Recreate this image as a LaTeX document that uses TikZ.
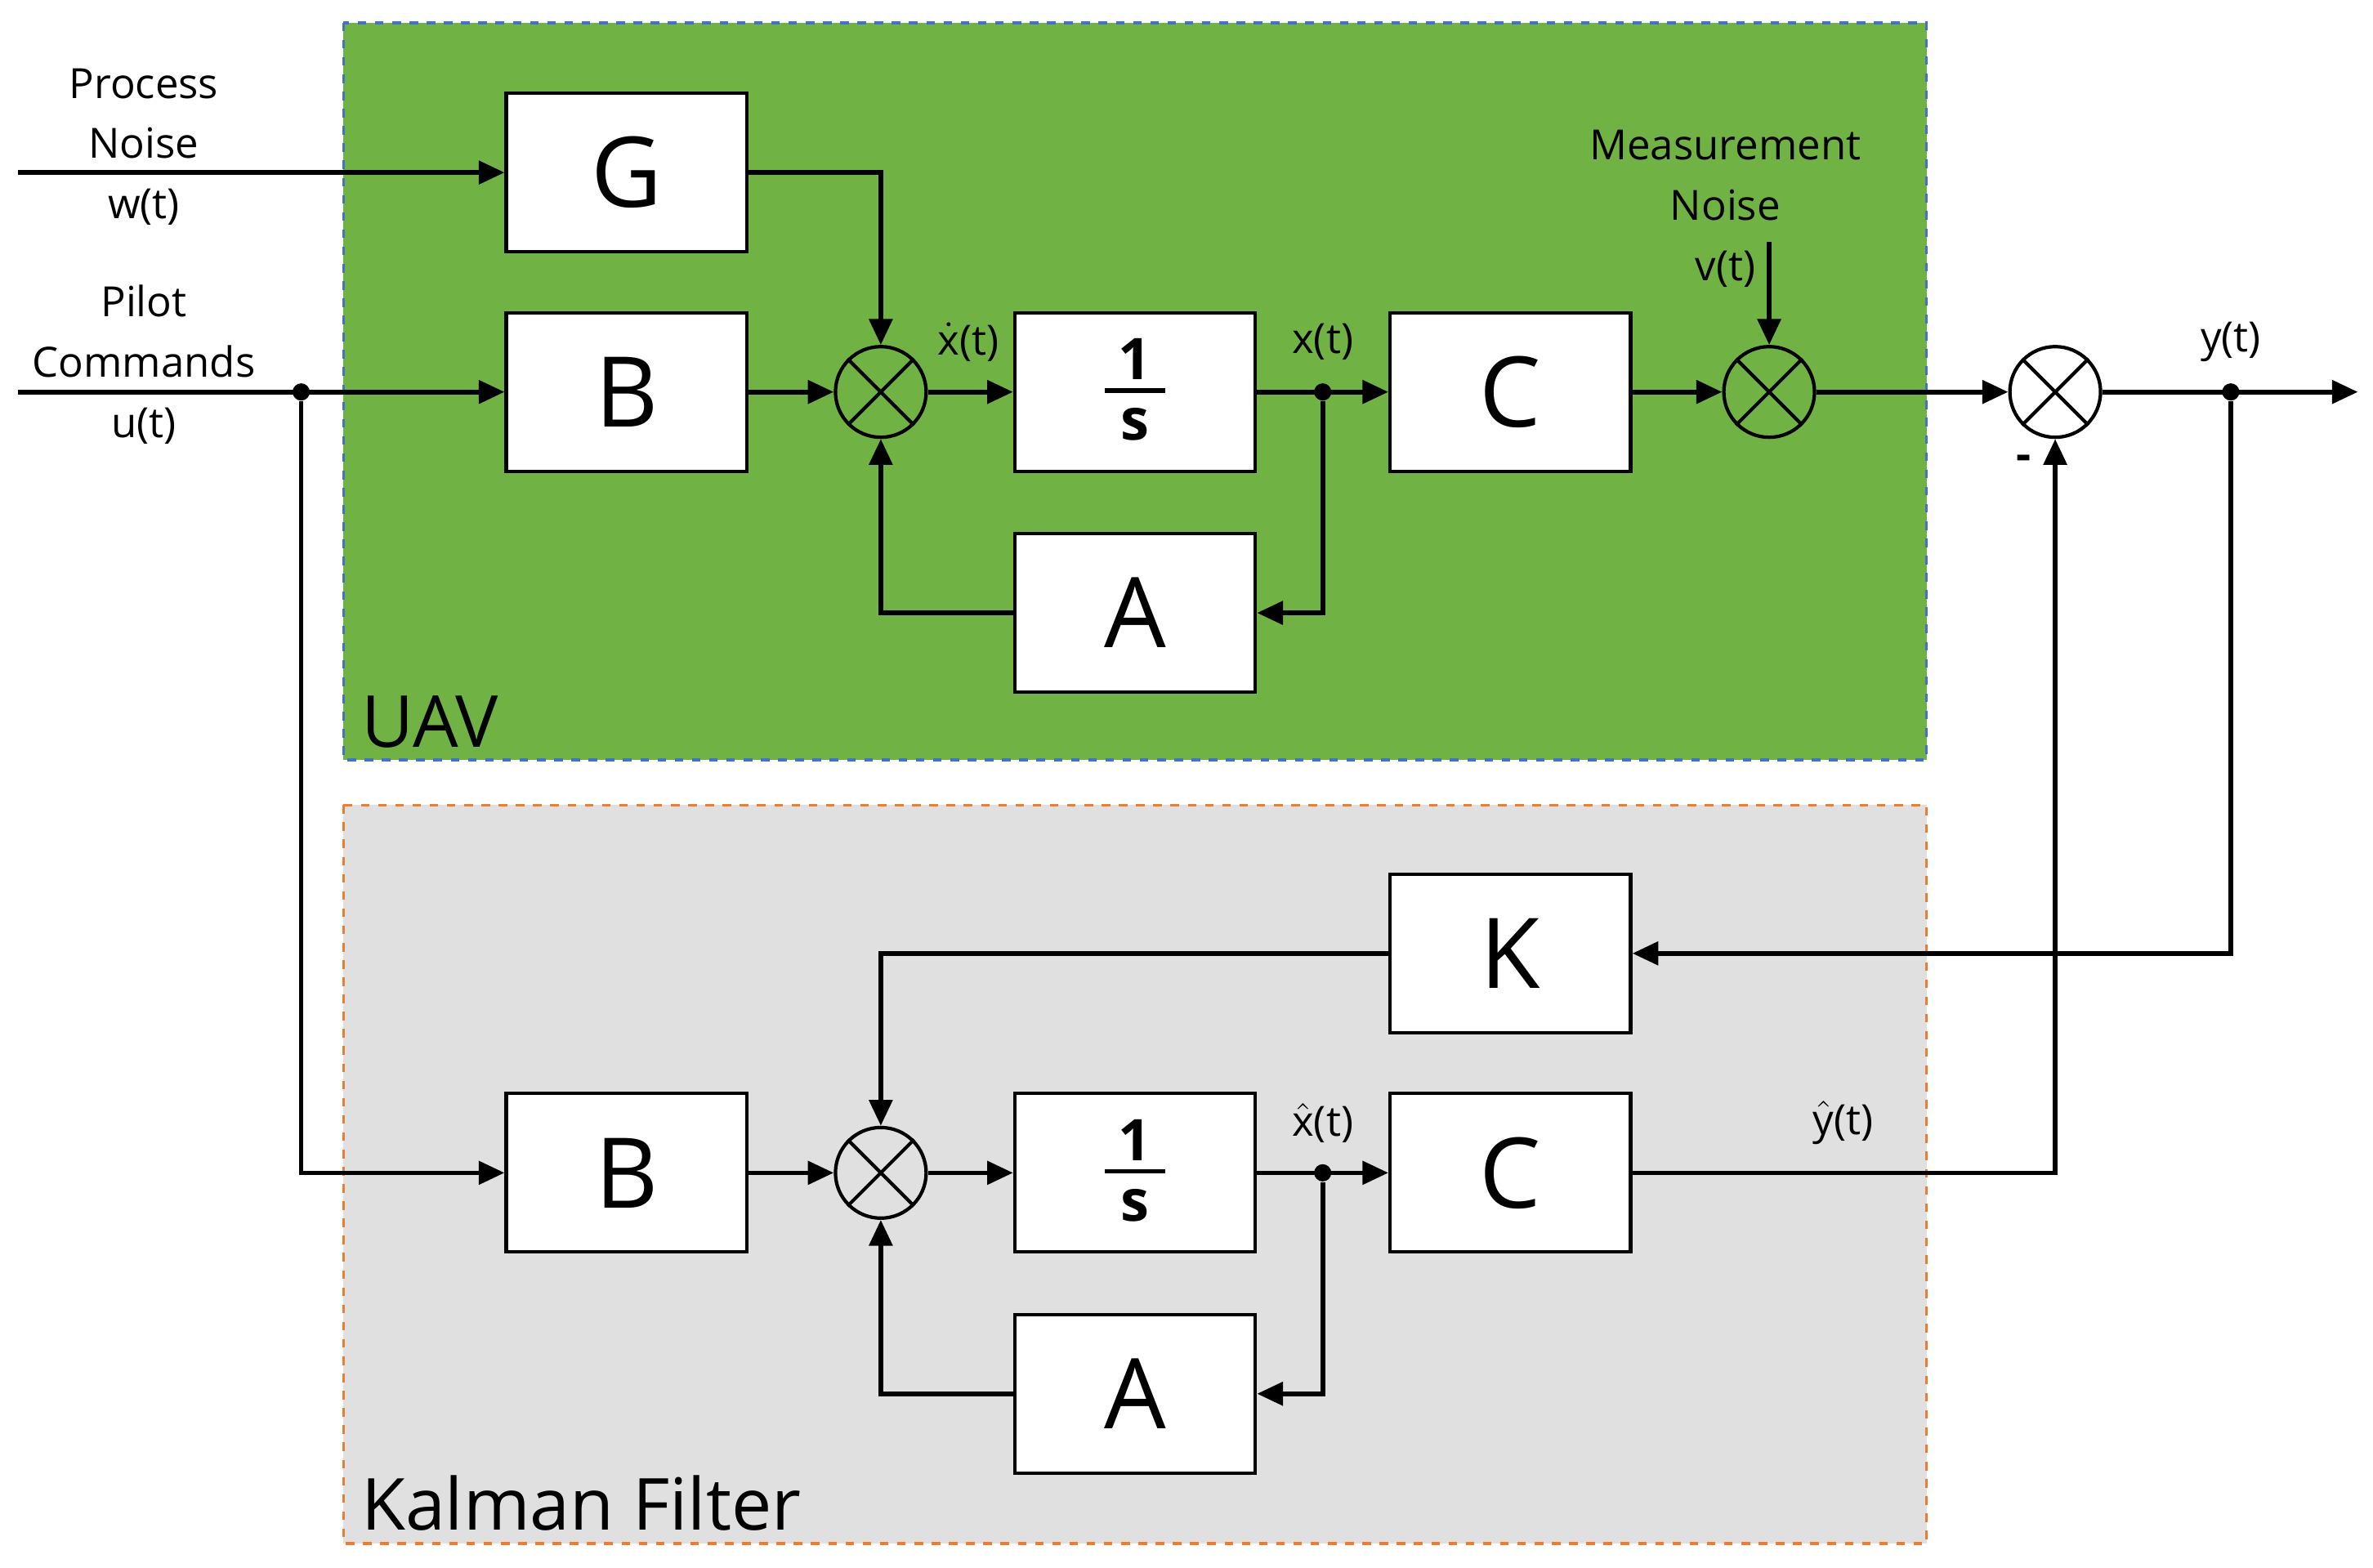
\documentclass[tikz,border=0pt]{standalone}
\usepackage{fontspec}
\setmainfont{Open Sans}
\usetikzlibrary{arrows.meta}
\definecolor{uavgreen}{HTML}{70B344}
\definecolor{kfgray}{HTML}{E0E0E0}
\definecolor{bblue}{HTML}{4472C4}
\definecolor{borange}{HTML}{ED7D31}
\begin{document}
\begin{tikzpicture}[x=0.01852cm,y=-0.01852cm,
  blk/.style={draw,fill=white,line width=1.2pt,minimum width=2.945cm,minimum height=1.94cm,inner sep=0pt,font=\fontsize{34}{36}\selectfont},
  sumn/.style={draw,circle,fill=uavgreen,line width=1.2pt,minimum size=1.11cm,inner sep=0pt},
  wire/.style={line width=1.6pt},
  arr/.style={wire,-{Triangle[length=9pt,width=8pt]}},
  dot/.style={circle,fill=black,inner sep=0pt,minimum size=6pt},
  lbl/.style={font=\fontsize{14.5}{17}\selectfont,align=center},
  frac/.style={font=\bfseries\fontsize{20}{22}\selectfont,inner sep=0pt},
  big/.style={font=\fontsize{25}{30}\selectfont,anchor=west}]
\useasboundingbox (0,0) rectangle (1568,1036);
\fill[white] (0,0) rectangle (1568,1036);
\draw[fill=uavgreen,draw=bblue,dashed,line width=1pt] (227,15) rectangle (1273,502);
\draw[fill=kfgray,draw=borange,dashed,line width=1pt] (227,532) rectangle (1273,1020);
\node[big] (uav) at (232,477) {UAV};
\node[big] (kf) at (232,993) {Kalman Filter};
% upper
\node[blk] (G) at (414,114) {G};
\node[blk] (B) at (414,259) {B};
\node[sumn] (s1) at (582,259) {};
\node[blk] (I) at (750,259) {};
\node[blk] (A) at (750,405) {A};
\node[blk] (C) at (998,259) {C};
\node[sumn] (s2) at (1169,259) {};
\node[sumn,fill=white] (s3) at (1358,259) {};
% lower
\node[blk] (K) at (998,630) {K};
\node[blk] (B2) at (414,775) {B};
\node[sumn,fill=kfgray] (s4) at (582,775) {};
\node[blk] (I2) at (750,775) {};
\node[blk] (A2) at (750,921) {A};
\node[blk] (C2) at (998,775) {C};
\foreach \b in {I,I2}{
  \node[frac] (\b n) at ([yshift=0.4cm]\b.center) {1};
  \node[frac] (\b d) at ([yshift=-0.4cm]\b.center) {s};
  \draw[line width=1.6pt] ([xshift=-0.37cm,yshift=0.02cm]\b.center) -- ([xshift=0.37cm,yshift=0.02cm]\b.center);
}
\foreach \s in {s1,s2,s3,s4}{\draw[line width=1.2pt] (\s.45)--(\s.225) (\s.135)--(\s.315);}
\node[dot] (du) at (199,259) {};
\node[dot] (dx) at (874,259) {};
\node[dot] (dy) at (1474,259) {};
\node[dot] (dx2) at (874,775) {};
\coordinate (win) at (12,114);
\coordinate (uin) at (12,259);
\coordinate (vin) at (1169,160);
\coordinate (yout) at (1558,259);
% labels
\node[lbl] (pn) at (95,97) {Process\\[4pt]Noise\\[4pt]w(t)};
\node[lbl] (pc) at (95,241) {Pilot\\[4pt]Commands\\[4pt]u(t)};
\node[lbl] (mn) at (1140,138) {Measurement\\[4pt]Noise\\[4pt]v(t)};
\node[lbl] (lxd) at (640,226) {$\dot{\mathrm{x}}$(t)};
\node[lbl] (lx) at (874,226) {x(t)};
\node[lbl] (ly) at (1474,226) {y(t)};
\node[lbl] (lxh) at (874,742) {$\hat{\mathrm{x}}$(t)};
\node[lbl] (lyh) at (1218,742) {$\hat{\mathrm{y}}$(t)};
\node[font=\bfseries\fontsize{16}{18}\selectfont] (minus) at (1337,306) {-};
% upper wires
\draw[arr] (win) -- (G.west);
\draw[arr] (G.east) -| (s1.north);
\draw[arr] (uin) -- (B.west);
\draw[arr] (B.east) -- (s1.west);
\draw[arr] (s1.east) -- (I.west);
\draw[arr] (I.east) -- (C.west);
\draw[arr] (dx) |- (A.east);
\draw[arr] (A.west) -| (s1.south);
\draw[arr] (C.east) -- (s2.west);
\draw[arr] (vin) -- (s2.north);
\draw[arr] (s2.east) -- (s3.west);
\draw[arr] (s3.east) -- (yout);
\draw[arr] (dy) |- (K.east);
\draw[arr] (K.west) -| (s4.north);
\draw[arr] (du) |- (B2.west);
\draw[arr] (B2.east) -- (s4.west);
\draw[arr] (s4.east) -- (I2.west);
\draw[arr] (I2.east) -- (C2.west);
\draw[arr] (dx2) |- (A2.east);
\draw[arr] (A2.west) -| (s4.south);
\draw[arr] (C2.east) -| (s3.south);
\end{tikzpicture}
\end{document}
